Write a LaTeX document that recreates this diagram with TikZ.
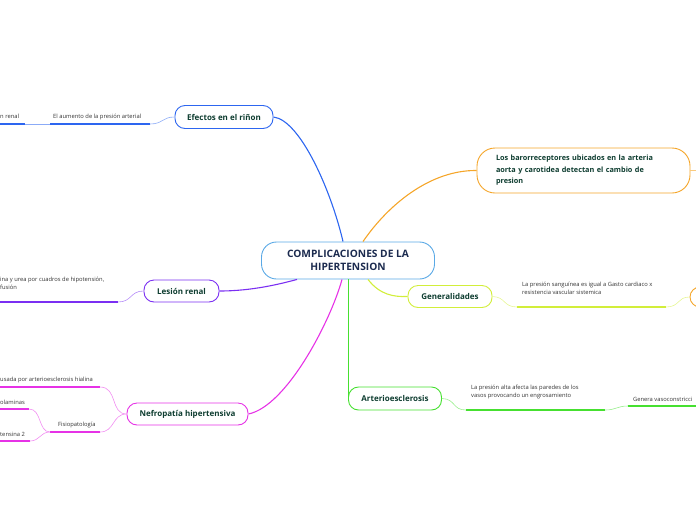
\documentclass[tikz,border=0pt]{standalone}
\usepackage{fontspec}
\setmainfont{Open Sans}
\usepackage{xcolor}
\usepackage{tikz}
\usetikzlibrary{calc}

\definecolor{cenblue}{HTML}{5AA9E6}
\definecolor{efblue}{HTML}{2D66F0}
\definecolor{lespurp}{HTML}{7B2FF2}
\definecolor{nefmag}{HTML}{E632E6}
\definecolor{barorange}{HTML}{F5A62A}
\definecolor{genlime}{HTML}{D2EE3A}
\definecolor{artgreen}{HTML}{46E030}
\definecolor{labgreen}{HTML}{0E3D30}
\definecolor{cennavy}{HTML}{1C2B4F}

\begin{document}
\begin{tikzpicture}[x=1pt, y=-1pt,
    topic/.style={draw, fill=white, rounded corners=10pt, line width=0.9pt,
      inner sep=0pt, text=labgreen, font=\fontsize{8}{9}\selectfont\bfseries},
    note/.style={anchor=base west, inner sep=0pt, align=left, text=black!80,
      font=\fontsize{5.8}{8}\selectfont},
    branch/.style={line width=1.1pt, draw=#1},
    uline/.style={line width=1.2pt, draw=#1},
    twig/.style={line width=0.6pt, draw=#1!55}]
    \clip (0,0) rectangle (696,520);

    % main topics
    \node[topic, draw=cenblue, text=cennavy, rounded corners=15pt, align=center,
      font=\fontsize{10.2}{12.5}\selectfont\bfseries,
      minimum width=173pt, minimum height=37pt] (cen) at (348,260.5)
      {COMPLICACIONES DE LA\\HIPERTENSION};
    \node[topic, draw=efblue, minimum width=98pt, minimum height=23pt] (efe)
      at (224,117) {Efectos en el riñon};
    \node[topic, draw=lespurp, minimum width=75pt, minimum height=22pt] (les)
      at (181.5,291) {Lesión renal};
    \node[topic, draw=nefmag, minimum width=121pt, minimum height=22pt] (nef)
      at (187.5,414) {Nefropatía hipertensiva};
    \node[topic, draw=barorange, rounded corners=18pt, align=left,
      text width=175pt, minimum width=213pt, minimum height=45pt,
      font=\fontsize{7.3}{11.5}\selectfont\bfseries] (bar) at (583.5,170.5)
      {Los barorreceptores ubicados en la arteria\\aorta y carotidea detectan el cambio de\\presion};
    \node[topic, draw=genlime, minimum width=84pt, minimum height=22pt] (gen)
      at (450,296.5) {Generalidades};
    \node[topic, draw=artgreen, minimum width=93pt, minimum height=23pt] (art)
      at (395,398.5) {Arterioesclerosis};
    \node[topic, draw=barorange, minimum width=30pt, minimum height=20pt] (gx)
      at (705,297) {};

    % branches from the centre
    \draw[branch=efblue] (efe.east) .. controls (300,120) and (331,190)
      .. ($(cen.north)+(-5,0)$);
    \draw[branch=barorange] ($(cen.north)+(15,0)$) .. controls (388,205)
      and (430,170) .. (bar.west);
    \draw[branch=lespurp] (les.east) .. controls (252,291) and (280,284)
      .. ($(cen.south)+(-51,0)$);
    \draw[branch=nefmag] (nef.east) .. controls (287,406) and (331,320)
      .. ($(cen.south)+(-6,0)$);
    \draw[branch=genlime] ($(cen.south)+(20,0)$) .. controls (380,295)
      and (394,297) .. (gen.west);
    \draw[branch=artgreen] (cen.south -| art.west) -- (art.west);
    \draw[branch=barorange!60] (bar.east) -- (700,170.5);

    % Efectos en el riñon
    \node[note] (ea) at (53,118) {El aumento de la presión arterial};
    \node[note] (er) at (0,118) {n renal};
    \coordinate (ea-l) at (50,124);
    \coordinate (ea-r) at (150,124);
    \coordinate (er-r) at (25,124);
    \draw[uline=efblue] (ea-l) -- (ea-r);
    \draw[uline=efblue] (0,124) -- (er-r);
    \draw[twig=efblue] (ea-r) .. controls (163,124) and (162,117) .. (efe.west);
    \draw[twig=efblue] (er-r) -- (ea-l);

    % Lesion renal
    \node[note] (li) at (0,289) {ina y urea por cuadros de hipotensión,\\fusión};
    \coordinate (li-r) at (118,302);
    \draw[uline=lespurp] (0,302) -- (li-r);
    \draw[twig=lespurp] (li-r) .. controls (132,302) and (130,291) .. (les.west);

    % Nefropatia hipertensiva
    \node[note] (nh) at (0,381) {usada por arterioesclerosis hialina};
    \node[note] (nf) at (58,426) {Fisiopatología};
    \node[note] (no) at (0,404) {olaminas};
    \node[note] (nt) at (0,436) {tensina 2};
    \coordinate (nh-r) at (100,387);
    \coordinate (nf-l) at (50,432);
    \coordinate (nf-r) at (100,432);
    \coordinate (no-r) at (29,409);
    \coordinate (nt-r) at (30,441);
    \draw[uline=nefmag] (0,387) -- (nh-r);
    \draw[uline=nefmag] (nf-l) -- (nf-r);
    \draw[uline=nefmag] (0,409) -- (no-r);
    \draw[uline=nefmag] (0,441) -- (nt-r);
    \draw[twig=nefmag] (nh-r) .. controls (118,387) and (110,414) .. (nef.west);
    \draw[twig=nefmag] (nf-r) .. controls (115,432) and (112,414) .. (nef.west);
    \draw[twig=nefmag] (nf-l) .. controls (38,432) and (42,409) .. (no-r);
    \draw[twig=nefmag] (nf-l) .. controls (40,432) and (40,441) .. (nt-r);

    % Generalidades
    \node[note] (gl) at (522,294)
      {La presión sanguínea es igual a Gasto cardiaco x\\resistencia vascular sistemica};
    \coordinate (gl-l) at (517,307);
    \coordinate (gl-r) at (666,307);
    \draw[uline=genlime] (gl-l) -- (gl-r);
    \draw[twig=genlime] (gen.east) .. controls (506,297) and (503,307) .. (gl-l);
    \draw[twig=genlime] (gl-r) .. controls (680,307) and (677,297) .. (gx.west);

    % Arterioesclerosis
    \node[note] (al) at (471,397)
      {La presión alta afecta las paredes de los\\vasos provocando un engrosamiento};
    \node[note] (gv) at (633,401) {Genera vasoconstricci};
    \coordinate (al-l) at (466,410);
    \coordinate (al-r) at (605,410);
    \coordinate (gv-l) at (628,406);
    \draw[uline=artgreen] (al-l) -- (al-r);
    \draw[uline=artgreen] (gv-l) -- (700,406);
    \draw[twig=artgreen] (art.east) .. controls (456,399) and (452,410) .. (al-l);
    \draw[twig=artgreen] (al-r) .. controls (616,410) and (617,406) .. (gv-l);
\end{tikzpicture}
\end{document}
